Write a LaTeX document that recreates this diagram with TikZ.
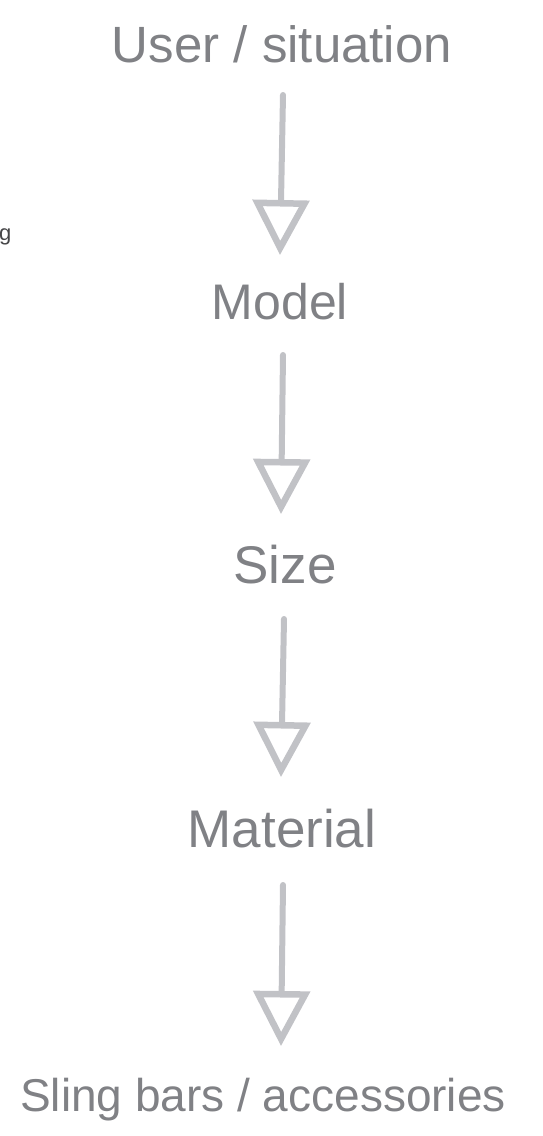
\documentclass[tikz,border=0pt]{standalone}
\usepackage{fontspec}
\setmainfont{Liberation Sans}
\usetikzlibrary{arrows.meta}
\definecolor{txtgray}{RGB}{128,129,133}
\definecolor{arrgray}{RGB}{193,194,198}
\definecolor{stray}{RGB}{70,70,72}
\tikzset{
  lbl/.style={text=txtgray, inner sep=0pt, anchor=center},
  conn/.style={draw=arrgray, line width=6pt, line cap=round, line join=round,
    -{Triangle[open, length=55pt, width=56pt, line width=6.5pt]}}
}
\begin{document}
\begin{tikzpicture}[x=1pt,y=-1pt]
\useasboundingbox (0,0) rectangle (543,1136);
\node[lbl, font=\fontsize{51}{60}\selectfont] (user) at (282,44) {User / situation};
\node[lbl, font=\fontsize{50}{60}\selectfont] (model) at (280,302) {Model};
\node[lbl, font=\fontsize{53}{60}\selectfont] (size) at (285,565) {Size};
\node[lbl, font=\fontsize{53}{60}\selectfont] (material) at (282,829) {Material};
\node[lbl, font=\fontsize{46}{56}\selectfont] (sling) at (263,1100) {Sling bars / accessories};
\node[text=stray, inner sep=0pt, anchor=base west, font=\fontsize{22}{24}\selectfont] (stray) at (-1,240) {g};
\coordinate (s1) at (283,95);  \coordinate (e1) at (280,255);
\coordinate (s2) at (283,355); \coordinate (e2) at (281,514);
\coordinate (s3) at (284,619); \coordinate (e3) at (281,777);
\coordinate (s4) at (283,885); \coordinate (e4) at (281,1046);
\draw[conn] (s1) -- (e1);
\draw[conn] (s2) -- (e2);
\draw[conn] (s3) -- (e3);
\draw[conn] (s4) -- (e4);
\end{tikzpicture}
\end{document}
